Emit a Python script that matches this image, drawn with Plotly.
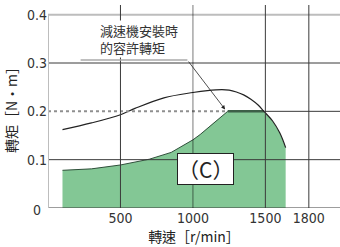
import numpy as np
import plotly.graph_objects as go

# ---- data ----
speed_lower = [100, 300, 500, 700, 850, 1000, 1050, 1100, 1150, 1200, 1240]
torque_lower = [0.078, 0.081, 0.089, 0.101, 0.115, 0.141, 0.152, 0.165, 0.178, 0.19, 0.2]

speed_flat = [1240, 1490]
torque_flat = [0.2, 0.2]

speed_upper = [100, 300, 500, 600, 800, 1000, 1100, 1200, 1250, 1300, 1350, 1400, 1450, 1490, 1550, 1600, 1640]
torque_upper = [0.162, 0.176, 0.193, 0.206, 0.228, 0.239, 0.243, 0.245, 0.244, 0.240, 0.234, 0.225, 0.213, 0.200, 0.180, 0.155, 0.125]

permissible_torque = 0.2
xticks = [500, 1000, 1500, 1800]
yticks = [0.1, 0.2, 0.3, 0.4]

GREEN = "#83c795"
DARK = "#3a3a3a"
FONT_NUM = "Liberation Sans Narrow, DejaVu Sans Condensed, Arial, sans-serif"
FONT_CJK = "Noto Sans CJK TC, Noto Sans CJK JP, sans-serif"

su = np.array(speed_upper)
tu = np.array(torque_upper)
mask = su >= speed_flat[1]
fill_x = [speed_lower[0]] + speed_lower + speed_flat + list(su[mask]) + [speed_upper[-1], speed_lower[0]]
fill_y = [0] + torque_lower + torque_flat + list(tu[mask]) + [0, 0]

fig = go.Figure()
fig.add_trace(go.Scatter(x=fill_x, y=fill_y, fill="toself", fillcolor=GREEN,
                         mode="none", hoverinfo="skip", showlegend=False))
fig.add_trace(go.Scatter(x=speed_lower, y=torque_lower, mode="lines",
                         line=dict(color="#2f4f3a", width=1), showlegend=False))
fig.add_trace(go.Scatter(x=speed_flat, y=torque_flat, mode="lines",
                         line=dict(color="#3d5f48", width=2.5), showlegend=False))
fig.add_trace(go.Scatter(x=speed_upper, y=torque_upper, mode="lines", line_shape="spline",
                         line=dict(color="#222222", width=1.2), showlegend=False))
fig.add_trace(go.Scatter(x=[0, speed_flat[0]], y=[permissible_torque, permissible_torque], mode="lines",
                         line=dict(color="#8f8f8f", width=2, dash="dot"), showlegend=False))

XMAX = 2015
YTOP = 0.42
shapes = []
for v in [0.1, 0.3]:
    shapes.append(dict(type="line", x0=0, x1=XMAX, y0=v, y1=v, line=dict(color=DARK, width=1), layer="above"))
shapes.append(dict(type="line", x0=speed_flat[1], x1=XMAX, y0=0.2, y1=0.2, line=dict(color=DARK, width=1), layer="above"))
shapes.append(dict(type="line", x0=0, x1=XMAX, y0=0.4, y1=0.4, line=dict(color="#bdbdbd", width=2), layer="above"))
shapes.append(dict(type="line", x0=0, x1=XMAX, y0=0, y1=0, line=dict(color=DARK, width=1), layer="above"))
for v in [500, 1500, 1800]:
    shapes.append(dict(type="line", x0=v, x1=v, y0=0, y1=YTOP, line=dict(color=DARK, width=1), layer="above"))
shapes.append(dict(type="line", x0=1000, x1=1000, y0=0, y1=YTOP, line=dict(color="rgba(0,0,0,0.35)", width=1.5), layer="above"))
shapes.append(dict(type="line", x0=0, x1=0, y0=0, y1=0.4, line=dict(color="#bdbdbd", width=2), layer="above"))
# underline of the label
shapes.append(dict(type="line", x0=225, x1=962, y0=0.306, y1=0.306, line=dict(color="#aaaaaa", width=1.5), layer="above"))

fig.update_layout(
    width=340, height=247,
    margin=dict(l=48, r=0, t=5, b=39),
    paper_bgcolor="white", plot_bgcolor="white",
    shapes=shapes,
    xaxis=dict(range=[0, XMAX], tickvals=xticks, ticktext=[str(v) for v in xticks],
               showgrid=False, zeroline=False, showline=False, ticks="",
               tickfont=dict(family=FONT_NUM, size=14, color="#333"),
               title=dict(text="轉速［r/min］", font=dict(family=FONT_CJK, size=14, color="#222"), standoff=2)),
    yaxis=dict(range=[0, YTOP], tickvals=yticks, ticktext=["0.1", "0.2", "0.3", "0.4"],
               showgrid=False, zeroline=False, showline=False, ticks="",
               tickfont=dict(family=FONT_NUM, size=14, color="#333"),
               title=dict(text="轉矩［N·m］", font=dict(family=FONT_CJK, size=14, color="#222"), standoff=6)),
    annotations=[
        dict(x=-0.058, y=0, xref="paper", yref="paper", text="0", showarrow=False, yshift=-12,
             font=dict(family=FONT_NUM, size=14, color="#333")),
        dict(x=355, y=0.349, xref="x", yref="y", xanchor="left", yanchor="middle",
             text="減速機安裝時<br>的容許轉矩", align="left", showarrow=False,
             bgcolor="white", borderpad=0, font=dict(family=FONT_CJK, size=13, color="#333")),
        dict(x=1222, y=0.204, ax=962, ay=0.306, xref="x", yref="y", axref="x", ayref="y",
             text="", showarrow=True, arrowhead=2, arrowsize=1, arrowwidth=0.8, arrowcolor="#222"),
        dict(x=1090, y=0.08, xref="x", yref="y", text="（C）", showarrow=False,
             bgcolor="white", bordercolor="#222", borderwidth=1, borderpad=0,
             font=dict(family=FONT_CJK, size=21, color="#222")),
    ],
)

fig.write_html("out.html")
